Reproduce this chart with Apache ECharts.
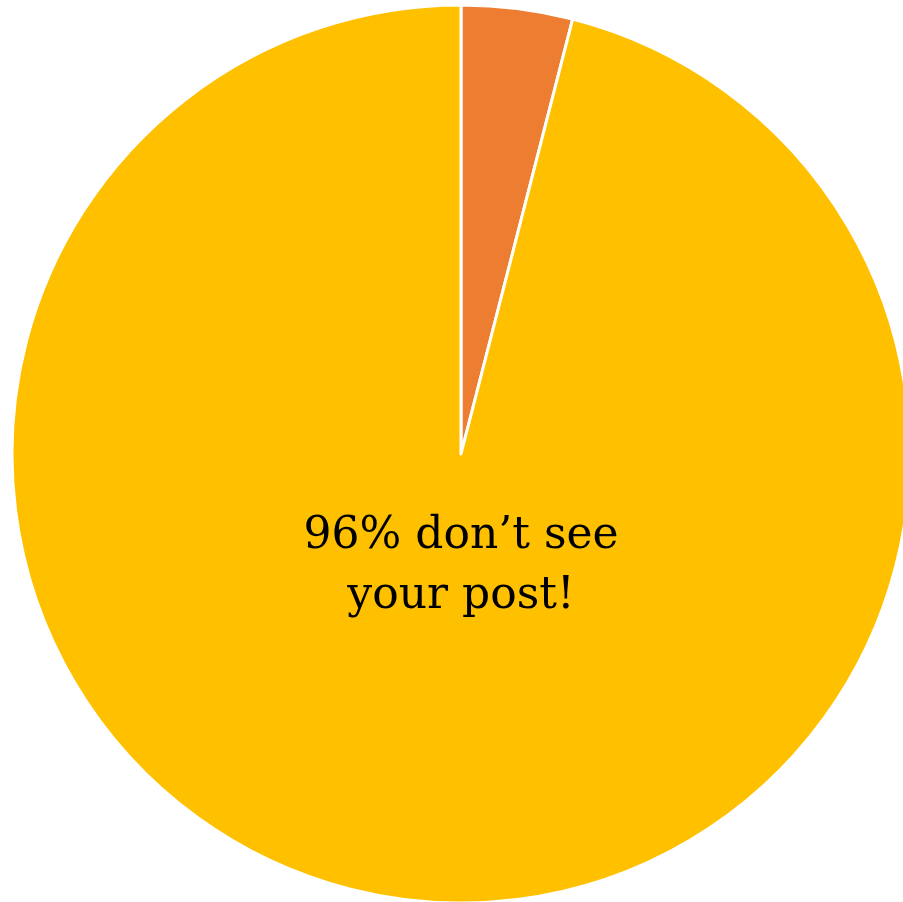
<!DOCTYPE html>
<html><head><meta charset="utf-8">
<script src="https://cdn.jsdelivr.net/npm/echarts@6/dist/echarts.min.js"></script>
<style>html,body{margin:0;padding:0;background:#fff}#c{width:903px;height:902px}</style>
</head><body><div id="c"></div>
<script>
const categories = ['See your post', "Don't see your post"];
const values = [4, 96];
const colors = ['#ED7D31', '#FFC000'];
const labelLines = ['96% don’t see', 'your post!'];

const chart = echarts.init(document.getElementById('c'), null, {renderer: 'canvas'});
chart.setOption({
  animation: false,
  series: [{
    type: 'pie',
    center: [461, 454],
    radius: [0, 449],
    startAngle: 90,
    clockwise: true,
    label: {show: false},
    labelLine: {show: false},
    itemStyle: {borderColor: '#fff', borderWidth: 3},
    data: categories.map((n, i) => ({name: n, value: values[i], itemStyle: {color: colors[i]}}))
  }],
  graphic: [{
    type: 'text',
    x: 461,
    y: 567,
    z: 100,
    style: {
      text: labelLines.join('\n'),
      fontFamily: 'DejaVu Serif',
      fontSize: 44,
      fill: '#000',
      align: 'center',
      verticalAlign: 'middle',
      lineHeight: 60
    }
  }]
});
</script></body></html>
